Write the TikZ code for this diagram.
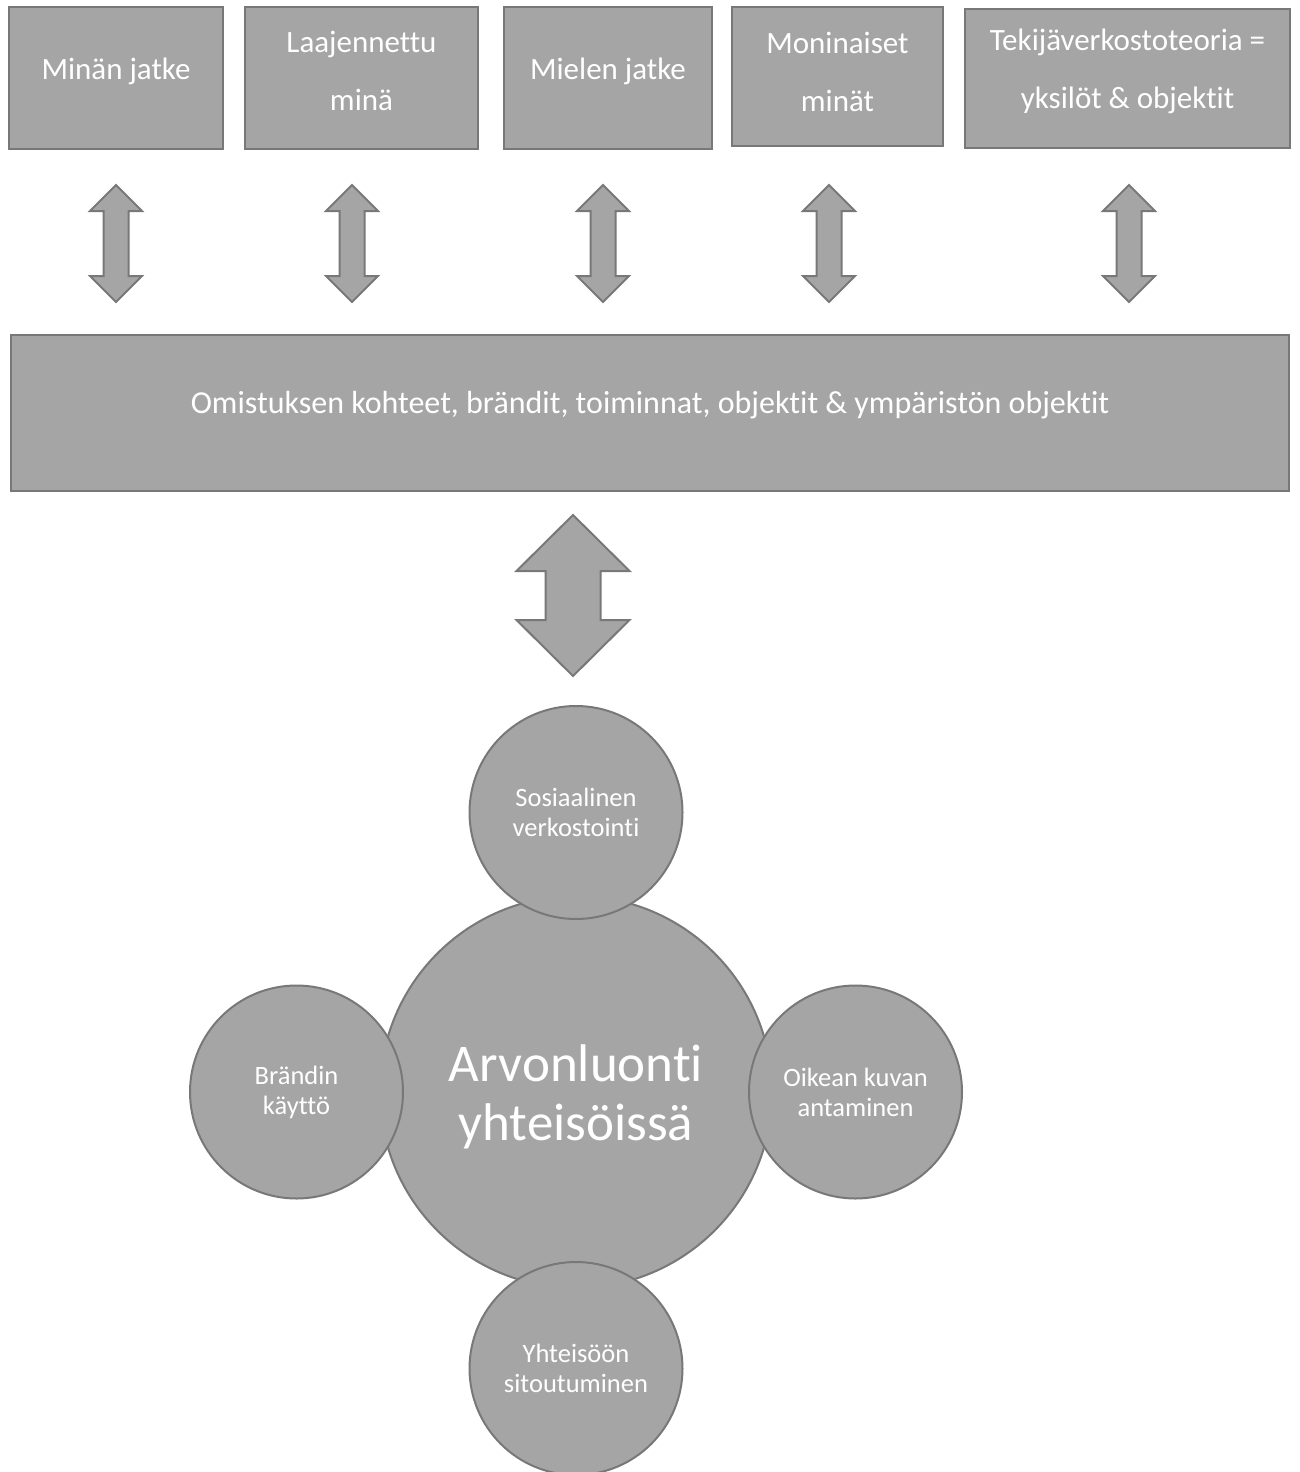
\documentclass[tikz,border=0pt]{standalone}
\usepackage{fontspec}
\setmainfont[Ligatures=NoCommon]{Carlito}
\usepackage{xcolor}
\usetikzlibrary{positioning}

\definecolor{boxgray}{HTML}{A5A5A5}
\definecolor{edgegray}{HTML}{787878}

\begin{document}
\begin{tikzpicture}[
  x=1pt, y=-1pt,
  node distance=0pt,
  box/.style={rectangle, draw=edgegray, line width=2pt, fill=boxgray, inner sep=0pt},
  boxtxt/.style={text=white, align=center, font=\fontsize{31}{58}\selectfont},
  bartxt/.style={text=white, font=\fontsize{32}{38}\selectfont},
  core/.style={circle, draw=edgegray, line width=2pt, fill=boxgray, minimum size=392pt},
  coretxt/.style={text=white, align=center, font=\fontsize{53}{59}\selectfont},
  sat/.style={circle, draw=edgegray, line width=2pt, fill=boxgray, minimum size=213pt,
              text=white, align=center, font=\fontsize{26.5}{30}\selectfont},
  arrbody/.style={draw=edgegray, line width=2pt, fill=boxgray, line join=miter},
  pics/dblarr/.style n args={4}{code={
    \draw[arrbody] (0,-#1) -- (#2,-#1+#4) -- (#3,-#1+#4) -- (#3,#1-#4) -- (#2,#1-#4)
      -- (0,#1) -- (-#2,#1-#4) -- (-#3,#1-#4) -- (-#3,-#1+#4) -- (-#2,-#1+#4) -- cycle;
  }}
]
  \useasboundingbox (0,0) rectangle (1299,1472);

  % top row
  \node[box, minimum width=214pt, minimum height=142pt,
        label={[boxtxt, yshift=7pt]center:{Minän jatke}}] (minan) at (116,78) {};
  \node[box, minimum width=233pt, minimum height=142pt,
        label={[boxtxt, yshift=7pt]center:{Laajennettu\\minä}}] (laaj) at (361.5,78) {};
  \node[box, minimum width=208pt, minimum height=142pt,
        label={[boxtxt, yshift=7pt]center:{Mielen jatke}}] (mielen) at (608,78) {};
  \node[box, minimum width=211pt, minimum height=139pt,
        label={[boxtxt, yshift=5pt]center:{Moninaiset\\minät}}] (monin) at (837.5,76.5) {};
  \node[box, minimum width=325pt, minimum height=139pt,
        label={[boxtxt, yshift=7pt]center:{Tekijäverkostoteoria =\\yksilöt \& objektit}}] (tekija) at (1127.5,78.5) {};

  % double arrows
  \pic (a1) at (116,243.5)  {dblarr={58.5}{26}{12.5}{26}};
  \pic (a2) at (352,243.5)  {dblarr={58.5}{26}{12.5}{26}};
  \pic (a3) at (603,243.5)  {dblarr={58.5}{26}{12.5}{26}};
  \pic (a4) at (829,243.5)  {dblarr={58.5}{26}{12.5}{26}};
  \pic (a5) at (1129,243.5) {dblarr={58.5}{26}{12.5}{26}};

  % bar
  \node[box, minimum width=1278pt, minimum height=156pt,
        label={[bartxt, yshift=7pt]center:{Omistuksen kohteet, brändit, toiminnat, objektit \& ympäristön objektit}}]
        (omist) at (650,412.5) {};

  \pic (abig) at (573,595.5) {dblarr={80.5}{56.5}{27.5}{56}};

  % circles
  \node[core, label={[coretxt, yshift=-5pt]center:{Arvonluonti\\yhteisöissä}}] (arvo) at (576,1092) {};
  \node[sat, above=-25pt of arvo] (sosi)  {Sosiaalinen\\verkostointi};
  \node[sat, left=-25pt of arvo]  (brand) {Brändin\\käyttö};
  \node[sat, right=-25pt of arvo] (oike)  {Oikean kuvan\\antaminen};
  \node[sat, below=-28pt of arvo] (yhte)  {Yhteisöön\\sitoutuminen};
\end{tikzpicture}
\end{document}
